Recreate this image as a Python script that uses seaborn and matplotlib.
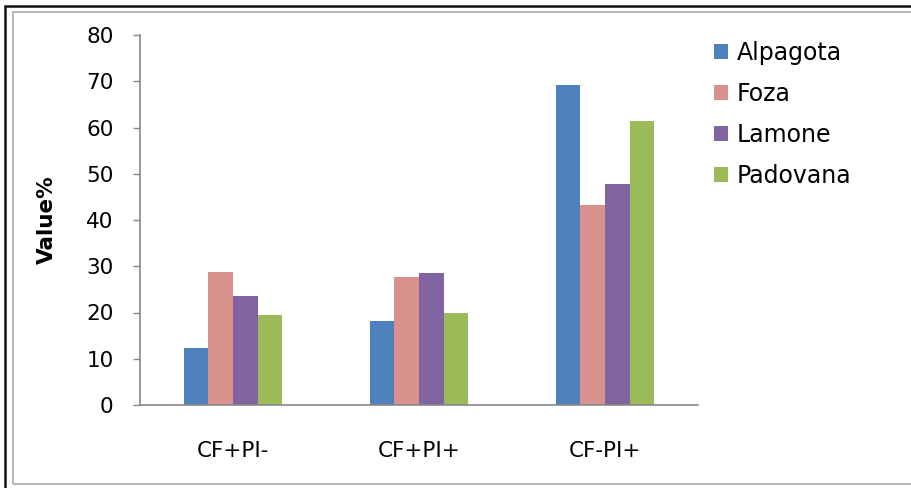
import matplotlib
matplotlib.use("Agg")
import matplotlib.pyplot as plt
import seaborn as sns
import pandas as pd
from matplotlib.patches import Rectangle

# Grouped prevalence values per breed
categories = ["CF+PI-", "CF+PI+", "CF-PI+"]
breeds = ["Alpagota", "Foza", "Lamone", "Padovana"]
alpagota = [12.3, 18.2, 69.2]
foza = [28.8, 27.7, 43.2]
lamone = [23.6, 28.5, 47.7]
padovana = [19.5, 19.8, 61.3]
y_ticks = [0, 10, 20, 30, 40, 50, 60, 70, 80]

colors = ["#4F81BD", "#D9918E", "#8064A2", "#9BBB59"]

rows = []
for breed, vals in zip(breeds, [alpagota, foza, lamone, padovana]):
    for cat, v in zip(categories, vals):
        rows.append({"Group": cat, "Breed": breed, "Value": v})
df = pd.DataFrame(rows)

sns.set_theme(style="white")
plt.rcParams["font.family"] = ["DejaVu Sans"]
plt.rcParams["text.color"] = "black"
plt.rcParams["xtick.color"] = "black"
plt.rcParams["ytick.color"] = "black"

W, H = 911, 488
fig = plt.figure(figsize=(W / 100, H / 100), dpi=100)
ax = fig.add_axes([140 / W, 1 - 405 / H, 558 / W, 370 / H])

sns.barplot(data=df, x="Group", y="Value", hue="Breed", order=categories,
            hue_order=breeds, palette=colors, width=0.53, saturation=1,
            linewidth=0, ax=ax, legend=True)

ax.set_xlim(-0.5, 2.5)
ax.set_ylim(0, 80)
ax.set_yticks(y_ticks)
ax.set_yticklabels([str(t) for t in y_ticks], fontsize=15.5)
ax.tick_params(axis="y", direction="out", length=5, width=1, color="#888888",
               left=True, pad=14, labelcolor="black")
ax.tick_params(axis="x", length=0, pad=26, labelsize=15.5, labelcolor="black")
ax.set_xlabel("")
ax.set_ylabel("Value%", fontsize=15.5, fontweight="bold", color="black")
ax.yaxis.set_label_coords((57 - 140) / 558, 0.5)

for side in ["top", "right"]:
    ax.spines[side].set_visible(False)
for side in ["left", "bottom"]:
    ax.spines[side].set_color("#888888")
    ax.spines[side].set_linewidth(1.2)

handles, labels = ax.get_legend_handles_labels()
ax.legend(handles, labels, loc="upper left", bbox_to_anchor=(714 / W, 1 - 41 / H),
          bbox_transform=fig.transFigure, frameon=False, fontsize=17,
          handlelength=0.6, handleheight=0.6, handletextpad=0.35,
          labelspacing=0.72, borderaxespad=0, borderpad=0)

# Double frame around the chart (continues past the right and bottom edges)
fig.patches.append(Rectangle((5 / W, 1 - 520 / H), 930 / W, 514 / H,
                             transform=fig.transFigure, fill=False,
                             edgecolor="#111111", linewidth=1.8))
fig.patches.append(Rectangle((12.5 / W, 1 - 484 / H), 920 / W, 472 / H,
                             transform=fig.transFigure, fill=False,
                             edgecolor="#AAAAAA", linewidth=1.2))

fig.savefig("out.png", dpi=100)
